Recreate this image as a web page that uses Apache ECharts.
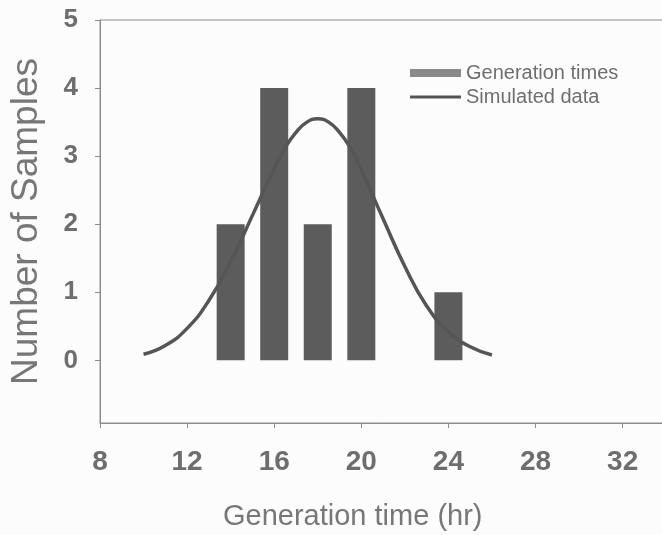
<!DOCTYPE html>
<html>
<head>
<meta charset="utf-8">
<script src="https://cdn.jsdelivr.net/npm/echarts@6/dist/echarts.min.js"></script>
<style>
  html, body { margin: 0; padding: 0; background: #fcfcfc; }
  #chart { width: 662px; height: 535px; }
</style>
</head>
<body>
<div id="chart"></div>
<script>
// histogram of generation times (bin centre, count)
const binCenters = [14, 16, 18, 20, 24];
const sampleCounts = [2, 4, 2, 4, 1];

// simulated curve
const curveX = [10, 11, 12, 13, 14, 15, 16, 16.5, 17, 17.5, 18, 18.5, 19, 19.5, 20, 21, 22, 23, 24, 25, 26];
const curveY = [0.09, 0.22, 0.47, 0.88, 1.45, 2.13, 2.82, 3.12, 3.35, 3.5, 3.55, 3.5, 3.35, 3.12, 2.8, 2.08, 1.38, 0.8, 0.42, 0.2, 0.08];

const xTicks = [8, 12, 16, 20, 24, 28, 32];
const yTicks = [0, 1, 2, 3, 4, 5];

const textGray = '#6e6e6e';
const axisGray = '#8c8c8c';

const chart = echarts.init(document.getElementById('chart'));

const option = {
  backgroundColor: '#fcfcfc',
  animation: false,
  title: {
    text: 'Generation time (hr)',
    left: 218,
    top: 497,
    textStyle: { fontFamily: 'Liberation Sans', fontSize: 29, fontWeight: 'normal', color: '#777' }
  },
  legend: {
    orient: 'vertical',
    left: 405,
    top: 58,
    itemWidth: 51,
    itemHeight: 8,
    itemGap: 4,
    textStyle: { fontFamily: 'Liberation Sans', fontSize: 20, color: textGray },
    data: [
      { name: 'Generation times', icon: 'rect', itemStyle: { color: '#8a8a8a' } },
      { name: 'Simulated data', icon: 'path://M0,0 L51,0 L51,3 L0,3 Z' }
    ]
  },
  grid: {
    left: 100,
    top: 20,
    right: -2,
    bottom: 112,
    outerBoundsMode: 'none',
    containLabel: false,
    show: true,
    borderColor: axisGray,
    borderWidth: 1,
    backgroundColor: 'transparent'
  },
  xAxis: {
    type: 'value',
    min: 8,
    max: 33.9,
    interval: 4,
    axisLine: { onZero: false, lineStyle: { color: axisGray, width: 1 } },
    axisTick: { show: true, length: 5, lineStyle: { color: axisGray } },
    splitLine: { show: false },
    axisLabel: {
      showMaxLabel: false,
      margin: 25,
      fontFamily: 'Liberation Sans',
      fontSize: 28,
      fontWeight: 'bold',
      color: textGray,
      formatter: v => (xTicks.includes(v) ? String(v) : '')
    }
  },
  yAxis: {
    type: 'value',
    min: -0.92,
    max: 5,
    splitNumber: 5,
    name: 'Number of Samples',
    nameLocation: 'middle',
    nameGap: 55,
    nameTextStyle: { fontFamily: 'Liberation Sans', fontSize: 37, color: '#777' },
    axisLine: { show: true, lineStyle: { color: axisGray, width: 1 } },
    axisTick: { show: true, length: 5, lineStyle: { color: axisGray } },
    splitLine: { show: false },
    axisLabel: {
      showMinLabel: false,
      margin: 22,
      fontFamily: 'Liberation Sans',
      fontSize: 26,
      fontWeight: 'bold',
      color: textGray,
      formatter: v => (yTicks.includes(v) ? String(v) : '')
    }
  },
  series: [
    {
      name: 'Generation times',
      type: 'bar',
      barWidth: 28,
      itemStyle: { color: '#5c5c5c' },
      data: binCenters.map((x, i) => [x, sampleCounts[i]])
    },
    {
      name: 'Simulated data',
      type: 'line',
      smooth: true,
      symbol: 'none',
      lineStyle: { color: '#555', width: 3.5 },
      itemStyle: { color: '#555' },
      data: curveX.map((x, i) => [x, curveY[i]])
    }
  ]
};

chart.setOption(option);
</script>
</body>
</html>
